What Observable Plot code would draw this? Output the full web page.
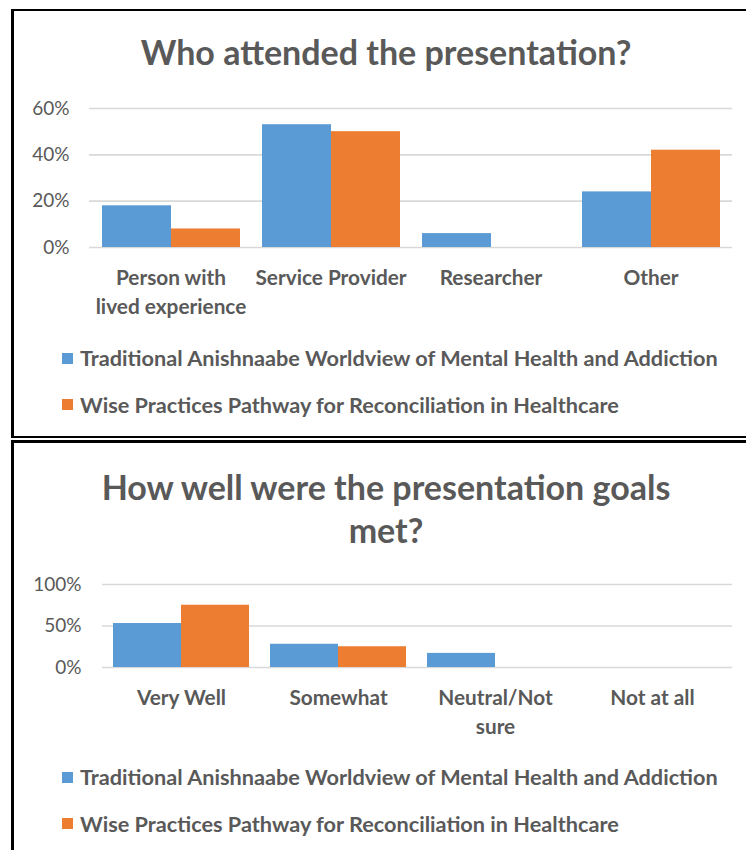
<!DOCTYPE html>
<html><head><meta charset="utf-8">
<script src="https://cdn.jsdelivr.net/npm/d3@7"></script>
<script src="https://cdn.jsdelivr.net/npm/@observablehq/plot@0.6"></script>
<style>
html,body{margin:0;padding:0;background:#fff;overflow:hidden;}
#page{position:relative;width:746px;height:850px;overflow:hidden;font-family:Lato,sans-serif;color:#595959;}
.panel{position:absolute;border-style:solid;border-color:#000;box-sizing:border-box;}
.title{position:absolute;left:0;width:772px;text-align:center;font-weight:bold;font-size:34px;line-height:43px;}
.legend{position:absolute;left:62px;font-size:21.7px;font-weight:bold;}
.legend .row{display:flex;align-items:center;height:46.5px;white-space:nowrap;}
.sw{width:11px;height:11px;margin-right:7px;flex:none;}
.chart{position:absolute;left:0;width:746px;}
.chart svg{position:absolute;left:0;top:0;}
</style>
</head><body>
<div id="page">
  <div class="panel" style="left:11px;top:9px;width:760px;height:429px;border-width:2px 2px 2px 3px;"></div>
  <div class="panel" style="left:11px;top:440px;width:760px;height:440px;border-width:3px 2px 2px 3px;"></div>
  <div id="t1" class="title" style="top:30px;"></div>
  <div id="t2" class="title" style="top:465px;"></div>
  <div id="c1" class="chart" style="top:80px;"></div>
  <div id="c2" class="chart" style="top:560px;"></div>
  <div id="l1" class="legend" style="top:335px;"></div>
  <div id="l2" class="legend" style="top:754px;"></div>
</div>
<script>
// ---- data ----
const seriesNames = [
  "Traditional Anishnaabe Worldview of Mental Health and Addiction",
  "Wise Practices Pathway for Reconciliation in Healthcare"
];
const seriesColors = ["#5B9BD5", "#ED7D31"];

const title1 = "Who attended the presentation?";
const categories1 = ["Person with lived experience", "Service Provider", "Researcher", "Other"];
const categoryLabels1 = ["Person with\nlived experience", "Service Provider", "Researcher", "Other"];
const traditional1 = [0.18, 0.53, 0.06, 0.24];
const wise1 = [0.08, 0.50, 0.00, 0.42];
const yTicks1 = [0, 0.2, 0.4, 0.6];

const title2 = "How well were the presentation goals\nmet?";
const categories2 = ["Very Well", "Somewhat", "Neutral/Not sure", "Not at all"];
const categoryLabels2 = ["Very Well", "Somewhat", "Neutral/Not\nsure", "Not at all"];
const traditional2 = [0.53, 0.28, 0.17, 0.00];
const wise2 = [0.75, 0.25, 0.00, 0.00];
const yTicks2 = [0, 0.5, 1.0];

// ---- build ----
function table(cats, a, b) {
  const rows = [];
  cats.forEach((c, i) => {
    rows.push({category: c, series: seriesNames[0], value: a[i]});
    rows.push({category: c, series: seriesNames[1], value: b[i]});
  });
  return rows;
}

function common(opts, ticks) {
  return {
    width: 746,
    height: opts.height,
    marginTop: opts.marginTop,
    marginBottom: opts.marginBottom,
    marginLeft: opts.marginLeft,
    marginRight: 14,
    style: {fontFamily: "Lato, sans-serif", color: "#595959", background: "transparent", overflow: "visible"},
    y: {domain: [0, ticks[ticks.length - 1]], axis: null}
  };
}

function chart(el, cats, labels, a, b, ticks, opts) {
  const data = table(cats, a, b);
  const lab = cats.map((c, i) => ({category: c, label: labels[i]}));
  // background: gridlines spanning the whole plot area, with the y axis labels
  const grid = Plot.plot({
    ...common(opts, ticks),
    marks: [
      Plot.ruleY(ticks, {y: d => d, stroke: "#d9d9d9", strokeWidth: 1.6}),
      Plot.axisY(ticks, {tickFormat: d3.format(".0%"), tickSize: 0, tickPadding: opts.tickPadding, fontSize: 19, label: null, fill: "#595959"})
    ]
  });
  // foreground: grouped bars and category labels
  const bars = Plot.plot({
    ...common(opts, ticks),
    fx: {domain: cats, paddingInner: 0.133, paddingOuter: 0.066, axis: null, label: null},
    x: {domain: seriesNames, padding: 0, axis: null},
    color: {domain: seriesNames, range: seriesColors},
    marks: [
      Plot.barY(data, {fx: "category", x: "series", y: "value", fill: "series"}),
      Plot.text(lab, {fx: "category", text: "label", frameAnchor: "bottom", lineAnchor: "top", dy: 18, lineHeight: 1.35, fontSize: 20.8, fontWeight: "bold", fill: "#595959"})
    ]
  });
  el.style.height = opts.height + "px";
  el.appendChild(grid);
  el.appendChild(bars);
}

document.getElementById("t1").textContent = title1;
const t2 = document.getElementById("t2");
title2.split("\n").forEach(s => { const d = document.createElement("div"); d.textContent = s; t2.appendChild(d); });

chart(document.getElementById("c1"), categories1, categoryLabels1, traditional1, wise1, yTicks1,
  {height: 260, marginTop: 28, marginBottom: 93, marginLeft: 89, tickPadding: 20});
chart(document.getElementById("c2"), categories2, categoryLabels2, traditional2, wise2, yTicks2,
  {height: 220, marginTop: 24, marginBottom: 113, marginLeft: 102, tickPadding: 21});

function legend(el) {
  seriesNames.forEach((s, i) => {
    const r = document.createElement("div"); r.className = "row";
    const sw = document.createElement("div"); sw.className = "sw"; sw.style.background = seriesColors[i];
    const t = document.createElement("span"); t.textContent = s;
    r.appendChild(sw); r.appendChild(t); el.appendChild(r);
  });
}
legend(document.getElementById("l1"));
legend(document.getElementById("l2"));
</script>
</body></html>
